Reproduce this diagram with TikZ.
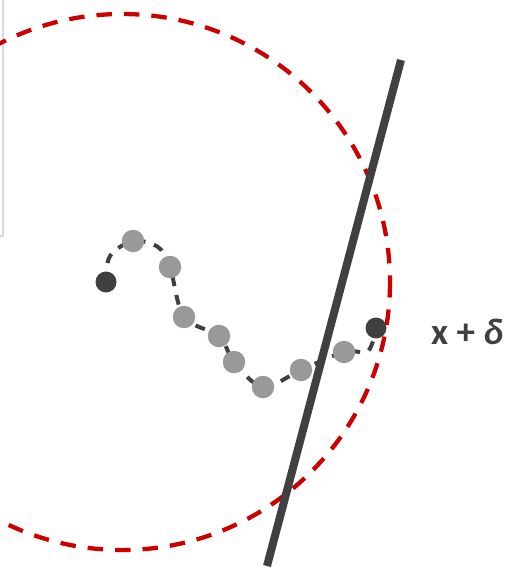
\documentclass[tikz,border=0pt]{standalone}
\usepackage{fontspec}
\setmainfont{Carlito}
\definecolor{cred}{HTML}{CC0000}
\definecolor{cdark}{HTML}{404040}
\definecolor{cgray}{HTML}{999999}
\definecolor{cframe}{HTML}{D9D9D9}
\begin{document}
\begin{tikzpicture}[x=1pt,y=-1pt,
  graydot/.style={circle,fill=cgray,inner sep=0pt,minimum size=22.5pt},
  darkdot/.style={circle,fill=cdark,inner sep=0pt,minimum size=21pt},
  pathline/.style={draw=cdark,line width=4pt,dash pattern=on 10pt off 9pt},
  ball/.style={draw=cred,line width=4.3pt,dash pattern=on 15.5pt off 12pt},
  plane/.style={draw=cdark,line width=8pt}]
\useasboundingbox (0,0) rectangle (506,568);
\draw[cframe,line width=1.5pt] (3,0) -- (3,236) -- (0,236);
\coordinate (c) at (122,282);
\coordinate (a1) at (110,256);
\coordinate (a2) at (368,351);
\draw[pathline] plot[smooth,tension=0.55] coordinates {(106,282) (a1) (133,241) (158,247) (170,267) (184,317) (219,336) (234,362) (263,387) (301,370) (344,352) (a2) (376,328)};
\node[darkdot] (s) at (106,282) {};
\node[graydot] (p1) at (133,241) {};
\node[graydot] (p2) at (170,267) {};
\node[graydot] (p3) at (184,317) {};
\node[graydot] (p4) at (219,336) {};
\node[graydot] (p5) at (234,362) {};
\node[graydot] (p6) at (263,387) {};
\node[graydot] (p7) at (301,370) {};
\node[graydot] (p8) at (344,352) {};
\node[darkdot] (e) at (376,328) {};
\draw[ball] (c) circle[radius=268];
\coordinate (l1) at (401,60);
\coordinate (l2) at (267,566);
\draw[plane] (l1) -- (l2);
\node[anchor=base west,inner sep=0pt,text=cdark,font=\fontsize{37}{37}\selectfont] (lab) at (431,344) {\textbf{x + \textit{δ}}};
\end{tikzpicture}
\end{document}
